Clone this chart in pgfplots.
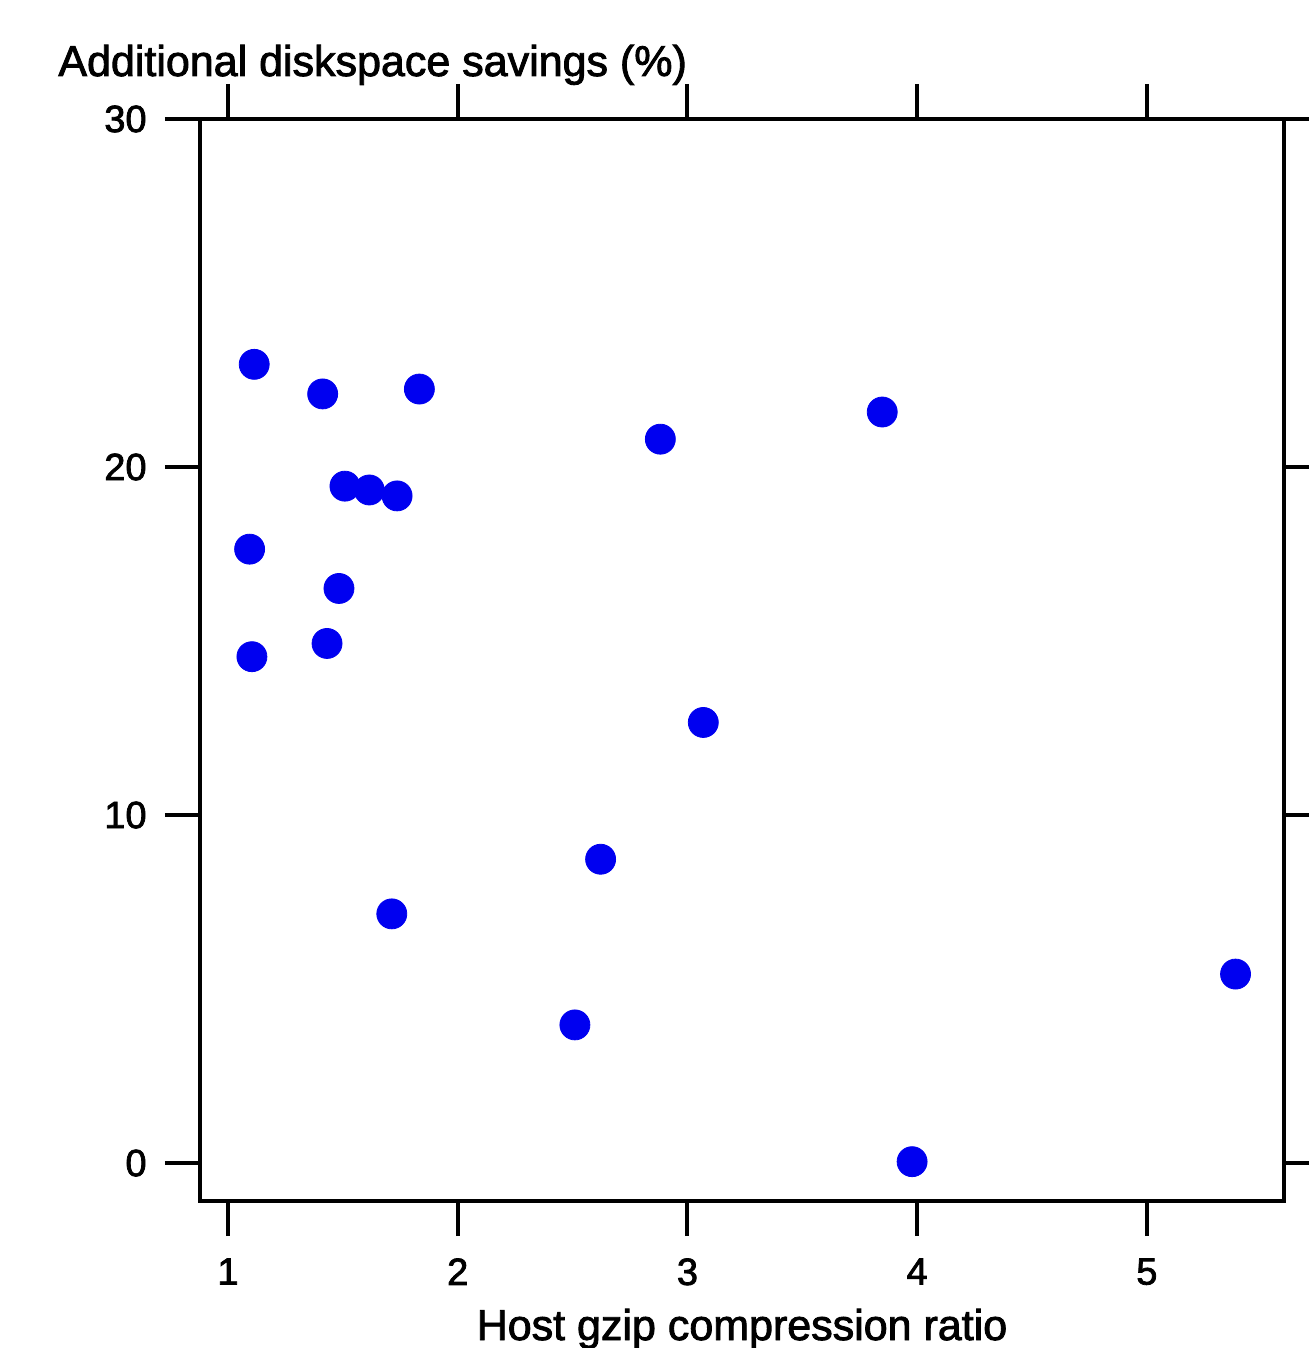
\documentclass[border=0pt]{standalone}
\usepackage{pgfplots}
\pgfplotsset{compat=1.18}
\usepackage{fontspec}
\setmainfont{Liberation Sans}
\newfontfamily\heavy{Liberation Sans}[FakeBold=2]
\definecolor{dotblue}{RGB}{0,0,240}

\begin{document}
\begin{tikzpicture}
% page = 1309x1348 px at 0.5pt per px; axis box 1084x1082 px
\path[use as bounding box] (-100pt,-73.5pt) rectangle (554.5pt,600.5pt);
\begin{axis}[
  at={(0pt,0pt)}, anchor=south west,
  scale only axis, width=542pt, height=541pt,
  xmin=0.878, xmax=5.597, ymin=-1.09, ymax=30,
  xtick={1,2,3,4,5}, ytick={0,10,20,30},
  axis line style={line width=2pt},
  tick style={line width=2pt, black},
  tick align=outside, major tick length=17.5pt,
  xticklabel style={font=\heavy\fontsize{19}{19}\selectfont, inner sep=0pt, yshift=-11pt},
  yticklabel style={font=\heavy\fontsize{19}{19}\selectfont, inner sep=0pt, xshift=-9pt},
  /pgf/number format/assume math mode=true,
  xlabel={Host gzip compression ratio},
  xlabel style={at={(axis description cs:0.5,0)}, anchor=base, yshift=-69.5pt, inner sep=0pt,
    font=\heavy\fontsize{21.5}{21.5}\selectfont},
  title={Additional diskspace savings (\%)},
  title style={at={(axis description cs:0,1)}, anchor=base west, xshift=-71pt, yshift=15.5pt,
    inner sep=0pt, font=\heavy\fontsize{21.5}{21.5}\selectfont},
  clip=false,
]
\addplot[only marks, mark=*, mark size=7.5pt, color=dotblue, mark options={draw=dotblue, fill=dotblue}]
  coordinates {
  (1.114,22.95) (1.412,22.10) (1.833,22.24)
  (1.509,19.45) (1.615,19.34) (1.736,19.17)
  (1.094,17.64) (1.483,16.51) (1.104,14.55) (1.431,14.93)
  (2.882,20.80) (3.848,21.58) (3.069,12.66)
  (1.713,7.16) (2.622,8.73) (2.510,3.97)
  (5.386,5.43) (3.978,0.04)
};
\end{axis}
\end{tikzpicture}
\end{document}
